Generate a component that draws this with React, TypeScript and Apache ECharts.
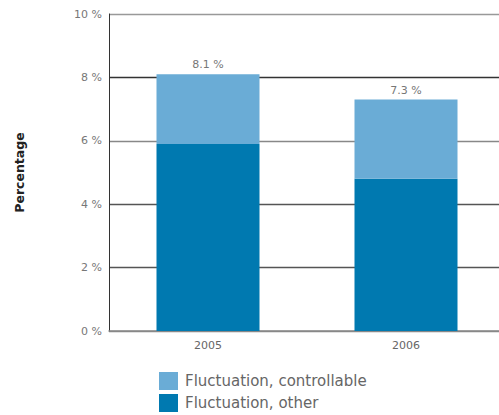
import React, { useEffect, useRef } from "react";
import * as echarts from "echarts";

const years = ["2005", "2006"];
const other = [5.9, 4.8];
const controllable = [2.2, 2.5];
const totals = [8.1, 7.3];
const yTicks = [0, 2, 4, 6, 8, 10];

export default function App() {
  const ref = useRef<HTMLDivElement>(null);
  useEffect(() => {
    if (!ref.current) return;
    const chart = echarts.init(ref.current, null, { renderer: "svg" });
    const font = "DejaVu Sans";
    chart.setOption({
      animation: false,
      textStyle: { fontFamily: font },
      grid: { left: 109, right: -6, top: 14, bottom: 84, outerBoundsMode: "none", containLabel: false },
      legend: {
        orient: "vertical",
        left: 159,
        top: 372,
        padding: 0,
        icon: "rect",
        itemWidth: 19,
        itemHeight: 18,
        itemGap: 4,
        data: ["Fluctuation, controllable", "Fluctuation, other"],
        textStyle: { color: "#666", fontSize: 15, fontFamily: font, padding: [0, 0, 0, 2] },
        selectedMode: false,
      },
      xAxis: {
        type: "category",
        data: years,
        axisTick: { show: false },
        axisLine: { lineStyle: { color: "#888", width: 1.5 } },
        axisLabel: { color: "#666", fontSize: 11, margin: 9 },
      },
      yAxis: {
        type: "value",
        min: yTicks[0],
        max: yTicks[yTicks.length - 1],
        interval: 2,
        name: "Percentage",
        nameLocation: "middle",
        nameGap: 83,
        nameRotate: 90,
        nameTextStyle: { color: "#222", fontSize: 12.5, fontWeight: "bold" },
        axisLine: { show: true, lineStyle: { color: "#333", width: 1 } },
        axisTick: { show: false },
        axisLabel: { color: "#777", fontSize: 11, margin: 7, formatter: "{value} %" },
        splitLine: {
          lineStyle: { color: ["#888", "#555", "#555", "#888", "#333", "#999"], width: 1.3 },
        },
      },
      series: [
        {
          name: "Fluctuation, other",
          type: "bar",
          stack: "total",
          data: other,
          barWidth: 103,
          itemStyle: { color: "#0079b0" },
        },
        {
          name: "Fluctuation, controllable",
          type: "bar",
          stack: "total",
          data: controllable,
          barWidth: 103,
          itemStyle: { color: "#6aacd6" },
          label: {
            show: true,
            position: "top",
            distance: 4,
            color: "#777",
            fontSize: 11,
            formatter: (p: any) => `${totals[p.dataIndex]} %`,
          },
        },
      ],
    });
    return () => chart.dispose();
  }, []);
  return (
    <div
      ref={ref}
      style={{ position: "fixed", left: 0, top: 0, width: 499, height: 415, background: "#fff" }}
    />
  );
}
